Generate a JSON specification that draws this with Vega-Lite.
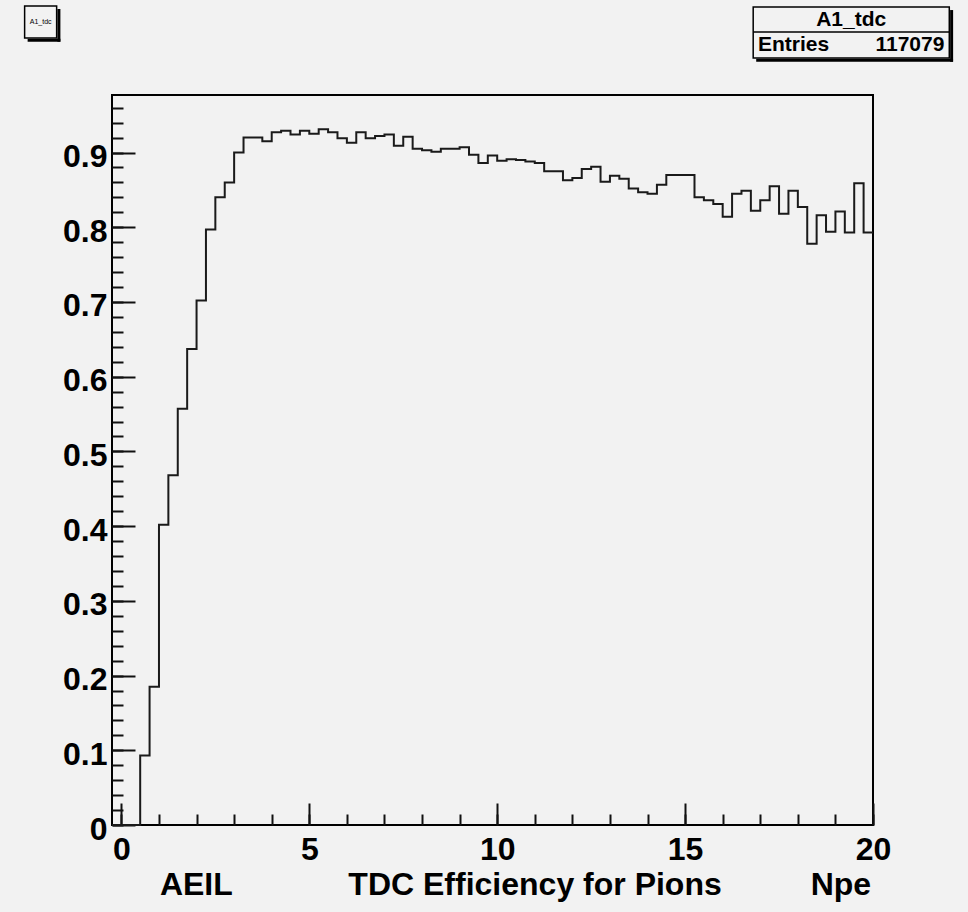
{
  "$schema": "https://vega.github.io/schema/vega-lite/v6.json",
  "width": 761,
  "height": 730,
  "autosize": {"type": "none"},
  "padding": {"left": 112, "top": 95, "right": 95, "bottom": 87},
  "background": "#f2f2f2",
  "config": {
    "view": {"stroke": "#000000", "strokeWidth": 2, "fill": "#f2f2f2"},
    "font": "Liberation Sans"
  },
  "resolve": {"axis": {"x": "independent", "y": "independent"}},
  "datasets": {
    "hist": [
      {"npe": -0.25, "eff": 0},
      {"npe": 0, "eff": 0},
      {"npe": 0.25, "eff": 0},
      {"npe": 0.5, "eff": 0.093},
      {"npe": 0.75, "eff": 0.185},
      {"npe": 1.0, "eff": 0.402},
      {"npe": 1.25, "eff": 0.468},
      {"npe": 1.5, "eff": 0.557},
      {"npe": 1.75, "eff": 0.637},
      {"npe": 2.0, "eff": 0.702},
      {"npe": 2.25, "eff": 0.797},
      {"npe": 2.5, "eff": 0.84},
      {"npe": 2.75, "eff": 0.86},
      {"npe": 3.0, "eff": 0.9},
      {"npe": 3.25, "eff": 0.92},
      {"npe": 3.5, "eff": 0.92},
      {"npe": 3.75, "eff": 0.915},
      {"npe": 4.0, "eff": 0.927},
      {"npe": 4.25, "eff": 0.929},
      {"npe": 4.5, "eff": 0.924},
      {"npe": 4.75, "eff": 0.929},
      {"npe": 5.0, "eff": 0.925},
      {"npe": 5.25, "eff": 0.931},
      {"npe": 5.5, "eff": 0.927},
      {"npe": 5.75, "eff": 0.919},
      {"npe": 6.0, "eff": 0.913},
      {"npe": 6.25, "eff": 0.927},
      {"npe": 6.5, "eff": 0.919},
      {"npe": 6.75, "eff": 0.922},
      {"npe": 7.0, "eff": 0.924},
      {"npe": 7.25, "eff": 0.909},
      {"npe": 7.5, "eff": 0.921},
      {"npe": 7.75, "eff": 0.905},
      {"npe": 8.0, "eff": 0.903},
      {"npe": 8.25, "eff": 0.901},
      {"npe": 8.5, "eff": 0.905},
      {"npe": 8.75, "eff": 0.905},
      {"npe": 9.0, "eff": 0.907},
      {"npe": 9.25, "eff": 0.897},
      {"npe": 9.5, "eff": 0.886},
      {"npe": 9.75, "eff": 0.896},
      {"npe": 10.0, "eff": 0.889},
      {"npe": 10.25, "eff": 0.891},
      {"npe": 10.5, "eff": 0.89},
      {"npe": 10.75, "eff": 0.888},
      {"npe": 11.0, "eff": 0.886},
      {"npe": 11.25, "eff": 0.875},
      {"npe": 11.5, "eff": 0.875},
      {"npe": 11.75, "eff": 0.863},
      {"npe": 12.0, "eff": 0.866},
      {"npe": 12.25, "eff": 0.878},
      {"npe": 12.5, "eff": 0.881},
      {"npe": 12.75, "eff": 0.861},
      {"npe": 13.0, "eff": 0.869},
      {"npe": 13.25, "eff": 0.865},
      {"npe": 13.5, "eff": 0.852},
      {"npe": 13.75, "eff": 0.847},
      {"npe": 14.0, "eff": 0.845},
      {"npe": 14.25, "eff": 0.857},
      {"npe": 14.5, "eff": 0.87},
      {"npe": 14.75, "eff": 0.87},
      {"npe": 15.0, "eff": 0.87},
      {"npe": 15.25, "eff": 0.84},
      {"npe": 15.5, "eff": 0.836},
      {"npe": 15.75, "eff": 0.831},
      {"npe": 16.0, "eff": 0.814},
      {"npe": 16.25, "eff": 0.845},
      {"npe": 16.5, "eff": 0.849},
      {"npe": 16.75, "eff": 0.822},
      {"npe": 17.0, "eff": 0.836},
      {"npe": 17.25, "eff": 0.855},
      {"npe": 17.5, "eff": 0.818},
      {"npe": 17.75, "eff": 0.849},
      {"npe": 18.0, "eff": 0.827},
      {"npe": 18.25, "eff": 0.778},
      {"npe": 18.5, "eff": 0.816},
      {"npe": 18.75, "eff": 0.794},
      {"npe": 19.0, "eff": 0.821},
      {"npe": 19.25, "eff": 0.793},
      {"npe": 19.5, "eff": 0.859},
      {"npe": 19.75, "eff": 0.793},
      {"npe": 20.0, "eff": 0.793}
    ],
    "info": [{"name": "A1_tdc", "label": "Entries", "entries": "117079"}]
  },
  "layer": [
    {
      "data": {"name": "hist"},
      "mark": {"type": "line", "interpolate": "step-after", "color": "#1a1a1a", "strokeWidth": 2},
      "encoding": {
        "x": {
          "field": "npe", "type": "quantitative",
          "scale": {"domain": [-0.25, 20], "nice": false, "zero": false},
          "axis": {
            "orient": "bottom",
            "values": [0, 5, 10, 15, 20],
            "domain": false, "grid": false,
            "tickColor": "#111111", "tickWidth": 2, "tickSize": -22,
            "format": "d",
            "labelFont": "Liberation Sans", "labelFontSize": 32, "labelFontWeight": "bold", "labelColor": "#000000",
            "labelPadding": 31, "labelFlush": false, "labelOverlap": false, "labelBaseline": "top",
            "title": "AEIL\u00a0\u00a0\u00a0\u00a0\u00a0\u00a0\u00a0\u00a0\u00a0\u00a0\u00a0\u00a0\u00a0TDC Efficiency for Pions\u00a0\u00a0\u00a0\u00a0\u00a0\u00a0\u00a0\u00a0\u00a0\u00a0Npe",
            "titleFont": "Liberation Sans", "titleFontSize": 32, "titleFontWeight": "bold", "titleColor": "#000000",
            "titleX": 403, "titleY": 69, "titleBaseline": "alphabetic", "titleAlign": "center"
          }
        },
        "y": {
          "field": "eff", "type": "quantitative",
          "scale": {"domain": [0, 0.977], "nice": false, "zero": false},
          "axis": {
            "orient": "left",
            "values": [0, 0.1, 0.2, 0.3, 0.4, 0.5, 0.6, 0.7, 0.8, 0.9],
            "domain": false, "grid": false,
            "tickColor": "#111111", "tickWidth": 2, "tickSize": -23,
            "format": ".1~f",
            "labelFont": "Liberation Sans", "labelFontSize": 32, "labelFontWeight": "bold", "labelColor": "#000000",
            "labelPadding": 28, "labelOffset": 4, "labelFlush": false, "labelOverlap": false,
            "title": null
          }
        }
      }
    },
    {
      "data": {"name": "info"},
      "mark": {"type": "rule", "opacity": 0},
      "encoding": {
        "x": {"datum": 0, "type": "quantitative",
          "axis": {"orient": "bottom", "values": [0,1,2,3,4,5,6,7,8,9,10,11,12,13,14,15,16,17,18,19,20], "domain": false, "grid": false, "labels": false, "title": null, "tickColor": "#111111", "tickWidth": 2, "tickSize": -11}},
        "y": {"datum": 0, "type": "quantitative",
          "axis": {"orient": "left", "values": [0,0.02,0.04,0.06,0.08,0.1,0.12,0.14,0.16,0.18,0.2,0.22,0.24,0.26,0.28,0.3,0.32,0.34,0.36,0.38,0.4,0.42,0.44,0.46,0.48,0.5,0.52,0.54,0.56,0.58,0.6,0.62,0.64,0.66,0.68,0.7,0.72,0.74,0.76,0.78,0.8,0.82,0.84,0.86,0.88,0.9,0.92,0.94,0.96], "domain": false, "grid": false, "labels": false, "title": null, "tickColor": "#111111", "tickWidth": 2, "tickSize": -11}}
      }
    },
    {
      "data": {"name": "info"},
      "mark": {"type": "rect", "fill": "#f2f2f2", "stroke": "#000000", "strokeWidth": 1.5},
      "encoding": {
        "x": {"datum": 16.812, "type": "quantitative", "axis": null},
        "x2": {"datum": 22.03},
        "y": {"datum": 1.0948, "type": "quantitative", "axis": null},
        "y2": {"datum": 1.0265}
      }
    },
    {
      "data": {"name": "info"},
      "mark": {"type": "rule", "color": "#000000", "strokeWidth": 3},
      "encoding": {
        "x": {"datum": 22.092, "type": "quantitative", "axis": null},
        "y": {"datum": 1.0907, "type": "quantitative", "axis": null},
        "y2": {"datum": 1.0215}
      }
    },
    {
      "data": {"name": "info"},
      "mark": {"type": "rule", "color": "#000000", "strokeWidth": 3},
      "encoding": {
        "x": {"datum": 16.892, "type": "quantitative", "axis": null},
        "x2": {"datum": 22.13},
        "y": {"datum": 1.0235, "type": "quantitative", "axis": null}
      }
    },
    {
      "data": {"name": "info"},
      "mark": {"type": "rule", "color": "#000000", "strokeWidth": 1.5},
      "encoding": {
        "x": {"datum": 16.812, "type": "quantitative", "axis": null},
        "x2": {"datum": 22.03},
        "y": {"datum": 1.0613, "type": "quantitative", "axis": null}
      }
    },
    {
      "data": {"name": "info"},
      "mark": {"type": "text", "font": "Liberation Sans", "fontSize": 21, "fontWeight": "bold", "align": "center", "baseline": "middle", "color": "#000000"},
      "encoding": {
        "x": {"datum": 19.42, "type": "quantitative", "axis": null},
        "y": {"datum": 1.078, "type": "quantitative", "axis": null},
        "text": {"field": "name"}
      }
    },
    {
      "data": {"name": "info"},
      "mark": {"type": "text", "font": "Liberation Sans", "fontSize": 21, "fontWeight": "bold", "align": "left", "baseline": "middle", "color": "#000000"},
      "encoding": {
        "x": {"datum": 16.94, "type": "quantitative", "axis": null},
        "y": {"datum": 1.044, "type": "quantitative", "axis": null},
        "text": {"field": "label"}
      }
    },
    {
      "data": {"name": "info"},
      "mark": {"type": "text", "font": "Liberation Sans", "fontSize": 21, "fontWeight": "bold", "align": "right", "baseline": "middle", "color": "#000000"},
      "encoding": {
        "x": {"datum": 21.9, "type": "quantitative", "axis": null},
        "y": {"datum": 1.044, "type": "quantitative", "axis": null},
        "text": {"field": "entries"}
      }
    },
    {
      "data": {"name": "info"},
      "mark": {"type": "rect", "fill": "#f2f2f2", "stroke": "#000000", "strokeWidth": 1.5},
      "encoding": {
        "x": {"datum": -2.575, "type": "quantitative", "axis": null},
        "x2": {"datum": -1.723},
        "y": {"datum": 1.0961, "type": "quantitative", "axis": null},
        "y2": {"datum": 1.0533}
      }
    },
    {
      "data": {"name": "info"},
      "mark": {"type": "rule", "color": "#000000", "strokeWidth": 3},
      "encoding": {
        "x": {"datum": -1.663, "type": "quantitative", "axis": null},
        "y": {"datum": 1.0921, "type": "quantitative", "axis": null},
        "y2": {"datum": 1.0483}
      }
    },
    {
      "data": {"name": "info"},
      "mark": {"type": "rule", "color": "#000000", "strokeWidth": 3},
      "encoding": {
        "x": {"datum": -2.495, "type": "quantitative", "axis": null},
        "x2": {"datum": -1.623},
        "y": {"datum": 1.0503, "type": "quantitative", "axis": null}
      }
    },
    {
      "data": {"name": "info"},
      "mark": {"type": "text", "font": "Liberation Sans", "fontSize": 7, "align": "center", "baseline": "middle", "color": "#000000"},
      "encoding": {
        "x": {"datum": -2.149, "type": "quantitative", "axis": null},
        "y": {"datum": 1.0747, "type": "quantitative", "axis": null},
        "text": {"field": "name"}
      }
    }
  ]
}
